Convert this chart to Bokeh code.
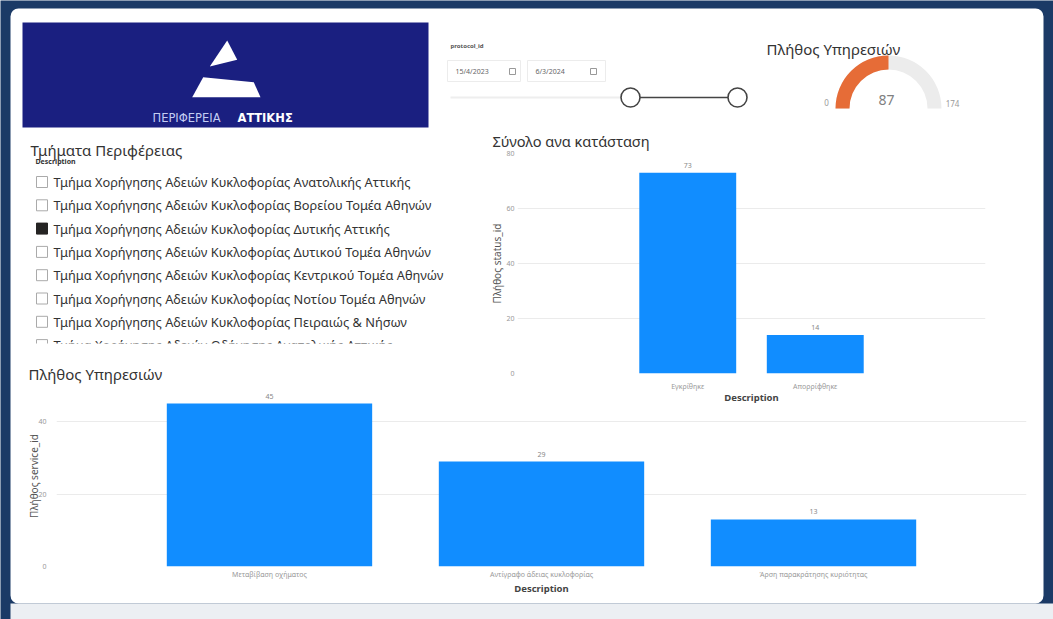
import numpy as np
from bokeh.plotting import figure
from bokeh.models import Range1d, FactorRange, FixedTicker, GridBox, ColumnDataSource, Quad
from bokeh.core.properties import value
from bokeh.embed import file_html
from bokeh.resources import INLINE

# ---------------- data ----------------
status_categories = ["Εγκρίθηκε", "Απορρίφθηκε"]
status_counts = [73, 14]
status_ticks = [0, 20, 40, 60, 80]

service_categories = ["Μεταβίβαση οχήματος", "Αντίγραφο άδειας κυκλοφορίας", "Άρση παρακράτησης κυριότητας"]
service_counts = [45, 29, 13]
service_ticks = [0, 20, 40]

gauge_value = 87
gauge_min = 0
gauge_max = 174

departments = [
    "Τμήμα Χορήγησης Αδειών Κυκλοφορίας Ανατολικής Αττικής",
    "Τμήμα Χορήγησης Αδειών Κυκλοφορίας Βορείου Τομέα Αθηνών",
    "Τμήμα Χορήγησης Αδειών Κυκλοφορίας Δυτικής Αττικής",
    "Τμήμα Χορήγησης Αδειών Κυκλοφορίας Δυτικού Τομέα Αθηνών",
    "Τμήμα Χορήγησης Αδειών Κυκλοφορίας Κεντρικού Τομέα Αθηνών",
    "Τμήμα Χορήγησης Αδειών Κυκλοφορίας Νοτίου Τομέα Αθηνών",
    "Τμήμα Χορήγησης Αδειών Κυκλοφορίας Πειραιώς & Νήσων",
    "Τμήμα Χορήγησης Αδειών Οδήγησης Ανατολικής Αττικής",
]
department_selected = [False, False, True, False, False, False, False, False]

date_from = "15/4/2023"
date_to = "6/3/2024"

# ---------------- style ----------------
FONT = "Noto Sans"
NAVY = "#1b3a66"
LOGO = "#1a1f80"
BLUE = "#118DFF"
ORANGE = "#E66C37"
W, H = 1053, 619
quad_kw = {"border_radius": 8} if "border_radius" in Quad.properties() else {}

# ---------------- background canvas (page pixel coords) ----------------
bg = figure(width=W, height=H, x_range=Range1d(0, W), y_range=Range1d(H, 0),
            output_backend="svg", toolbar_location=None,
            x_axis_location=None, y_axis_location=None, min_border=0,
            outline_line_color=None, background_fill_color=NAVY, border_fill_color=NAVY)
bg.grid.visible = False

bg.quad(left=[10], right=[W], top=[603], bottom=[H], fill_color="#eceff3", line_color=None)
bg.quad(left=[10], right=[1043], top=[8], bottom=[603], fill_color="white", line_color=None, **quad_kw)

# logo
bg.quad(left=[22], right=[428], top=[22], bottom=[127], fill_color=LOGO, line_color=None)
bg.patches(xs=[[226.7, 209.3, 236.7], [202.7, 253.3, 260, 191.7]],
           ys=[[40, 66, 59.3], [76.7, 81.7, 96.7, 96.7]],
           fill_color="white", line_color=None)
bg.text(x=[152], y=[117], text=["ΠΕΡΙΦΕΡΕΙΑ"], text_font=value("DejaVu Sans"), text_font_size="11.5px",
        text_color="#c3cdf3", text_baseline="middle", text_align="left")
bg.text(x=[237], y=[117], text=["ΑΤΤΙΚΗΣ"], text_font=value("DejaVu Sans"), text_font_size="11.5px",
        text_font_style="bold", text_color="white", text_baseline="middle", text_align="left")

# date slicer
bg.text(x=[450], y=[45], text=["protocol_id"], text_font=value(FONT), text_font_size="6px",
        text_font_style="bold", text_color="#555", text_baseline="middle")
bg.quad(left=[447, 527], right=[520, 605], top=[60, 60], bottom=[81, 81],
        fill_color="white", line_color="#ececec", line_width=1)
bg.text(x=[455, 535], y=[71, 71], text=[date_from, date_to], text_font=value(FONT),
        text_font_size="7px", text_color="#666", text_baseline="middle")
bg.quad(left=[509, 590], right=[515, 596], top=[68, 68], bottom=[74, 74],
        fill_color=None, line_color="#999", line_width=1)
bg.line(x=[450, 630], y=[97, 97], line_color="#eeeeee", line_width=2)
bg.line(x=[630, 737], y=[97, 97], line_color="#444444", line_width=1.6)
bg.scatter(x=[630, 737], y=[97, 97], size=19, fill_color="white", line_color="#444444", line_width=1.6)

# gauge
gx, gy = 888, 108
frac = (gauge_value - gauge_min) / (gauge_max - gauge_min)
bg.annular_wedge(x=[gx], y=[gy], inner_radius=39, outer_radius=53, inner_radius_units="screen",
                 outer_radius_units="screen", start_angle=0, end_angle=np.pi,
                 fill_color="#ececec", line_color=None)
bg.annular_wedge(x=[gx], y=[gy], inner_radius=39, outer_radius=53, inner_radius_units="screen",
                 outer_radius_units="screen", start_angle=np.pi * (1 - frac), end_angle=np.pi,
                 fill_color=ORANGE, line_color=None)
bg.text(x=[766], y=[48], text=["Πλήθος Υπηρεσιών"], text_font=value(FONT), text_font_size="15px",
        text_color="#333", text_baseline="middle")
bg.text(x=[826, 952], y=[102, 103], text=[str(gauge_min), str(gauge_max)], text_font=value(FONT),
        text_font_size="8px", text_color="#999", text_baseline="middle", text_align="center")
bg.text(x=[886], y=[99], text=[str(gauge_value)], text_font=value(FONT), text_font_size="14px",
        text_color="#808080", text_baseline="middle", text_align="center")

# department list slicer
bg.text(x=[30], y=[149], text=["Τμήματα Περιφέρειας"], text_font=value(FONT), text_font_size="15px",
        text_color="#333", text_baseline="middle")
bg.text(x=[35], y=[160.5], text=["Description"], text_font=value(FONT), text_font_size="7px",
        text_font_style="bold", text_color="#333", text_baseline="middle")
ys = [181.5 + i * 23.3 for i in range(len(departments))]
bg.quad(left=[36] * len(ys), right=[47] * len(ys), top=[y - 5.5 for y in ys], bottom=[y + 5.5 for y in ys],
        fill_color=["#252423" if s else "white" for s in department_selected],
        line_color=["#252423" if s else "#aaaaaa" for s in department_selected], line_width=1)
bg.text(x=[53] * len(ys), y=ys, text=departments, text_font=value(FONT), text_font_size="12.8px",
        text_color="#333", text_baseline="middle")
bg.quad(left=[25], right=[470], top=[343], bottom=[358], fill_color="white", line_color=None)

# chart titles
bg.text(x=[492], y=[140], text=["Σύνολο ανα κατάσταση"], text_font=value(FONT), text_font_size="14.6px",
        text_color="#333", text_baseline="middle")
bg.text(x=[28], y=[373], text=["Πλήθος Υπηρεσιών"], text_font=value(FONT), text_font_size="15px",
        text_color="#333", text_baseline="middle")


def style_chart(p, ticks, ylabel, lab_standoff_y, title_standoff_y, lab_standoff_x, title_standoff_x):
    p.background_fill_alpha = 0
    p.border_fill_alpha = 0
    p.outline_line_color = None
    p.xgrid.grid_line_color = None
    p.ygrid.grid_line_color = "#ebebeb"
    p.yaxis.ticker = FixedTicker(ticks=ticks)
    p.axis.axis_line_color = None
    p.axis.major_tick_line_color = None
    p.axis.minor_tick_line_color = None
    p.axis.major_tick_out = 0
    p.axis.major_tick_in = 0
    p.axis.minor_tick_out = 0
    p.axis.minor_tick_in = 0
    p.axis.major_label_text_font = FONT
    p.axis.major_label_text_font_size = "7px"
    p.axis.major_label_text_color = "#999999"
    p.axis.axis_label_text_font = FONT
    p.yaxis.axis_label = ylabel
    p.yaxis.axis_label_text_font_size = "10px"
    p.yaxis.axis_label_text_font_style = "normal"
    p.yaxis.axis_label_text_color = "#555555"
    p.xaxis.axis_label = "Description"
    p.xaxis.axis_label_text_font_size = "9.5px"
    p.xaxis.axis_label_text_font_style = "bold"
    p.xaxis.axis_label_text_color = "#444444"
    p.yaxis.major_label_standoff = lab_standoff_y
    p.yaxis.axis_label_standoff = title_standoff_y
    p.xaxis.major_label_standoff = lab_standoff_x
    p.xaxis.axis_label_standoff = title_standoff_x


# status chart: frame 468 x 220, borders L44 R10 T20 B40
src1 = ColumnDataSource(dict(cat=status_categories, val=status_counts, lab=[str(v) for v in status_counts]))
c1 = figure(x_range=FactorRange(factors=status_categories, range_padding=0.835, range_padding_units="absolute"),
            y_range=Range1d(0, 80), width=522, height=280, sizing_mode="fixed",
            min_border_left=44, min_border_right=10, min_border_top=20, min_border_bottom=40,
            output_backend="svg", toolbar_location=None)
c1.vbar(x="cat", top="val", width=0.76, source=src1, fill_color=BLUE, line_color=None)
c1.text(x="cat", y="val", text="lab", source=src1, text_align="center", text_baseline="bottom",
        y_offset=-5, text_font=value(FONT), text_font_size="7px", text_color="#888888")
style_chart(c1, status_ticks, "Πλήθος status_id", 3, -1, 8, -3)
c1.margin = (133, 0, 0, 473)

# services chart: frame 970 x 181, borders L40 R10 T5 B34
src2 = ColumnDataSource(dict(cat=service_categories, val=service_counts, lab=[str(v) for v in service_counts]))
c2 = figure(x_range=FactorRange(factors=service_categories, range_padding=0.283, range_padding_units="absolute"),
            y_range=Range1d(0, 50), width=1020, height=220, sizing_mode="fixed",
            min_border_left=40, min_border_right=10, min_border_top=5, min_border_bottom=34,
            output_backend="svg", toolbar_location=None)
c2.vbar(x="cat", top="val", width=0.755, source=src2, fill_color=BLUE, line_color=None)
c2.text(x="cat", y="val", text="lab", source=src2, text_align="center", text_baseline="bottom",
        y_offset=-5, text_font=value(FONT), text_font_size="7px", text_color="#888888")
style_chart(c2, service_ticks, "Πλήθος service_id", 10, -6, 3, 0)
c2.margin = (380, 0, 0, 16)

# every piece in its own grid row/column (so frames are not aligned), all tracks start at the origin
layout = GridBox(children=[(bg, 2, 2), (c1, 0, 0), (c2, 1, 1)],
                 rows=["0px", "0px", "auto"], cols=["0px", "0px", "auto"])

open("out.html", "w").write(file_html(layout, INLINE))
